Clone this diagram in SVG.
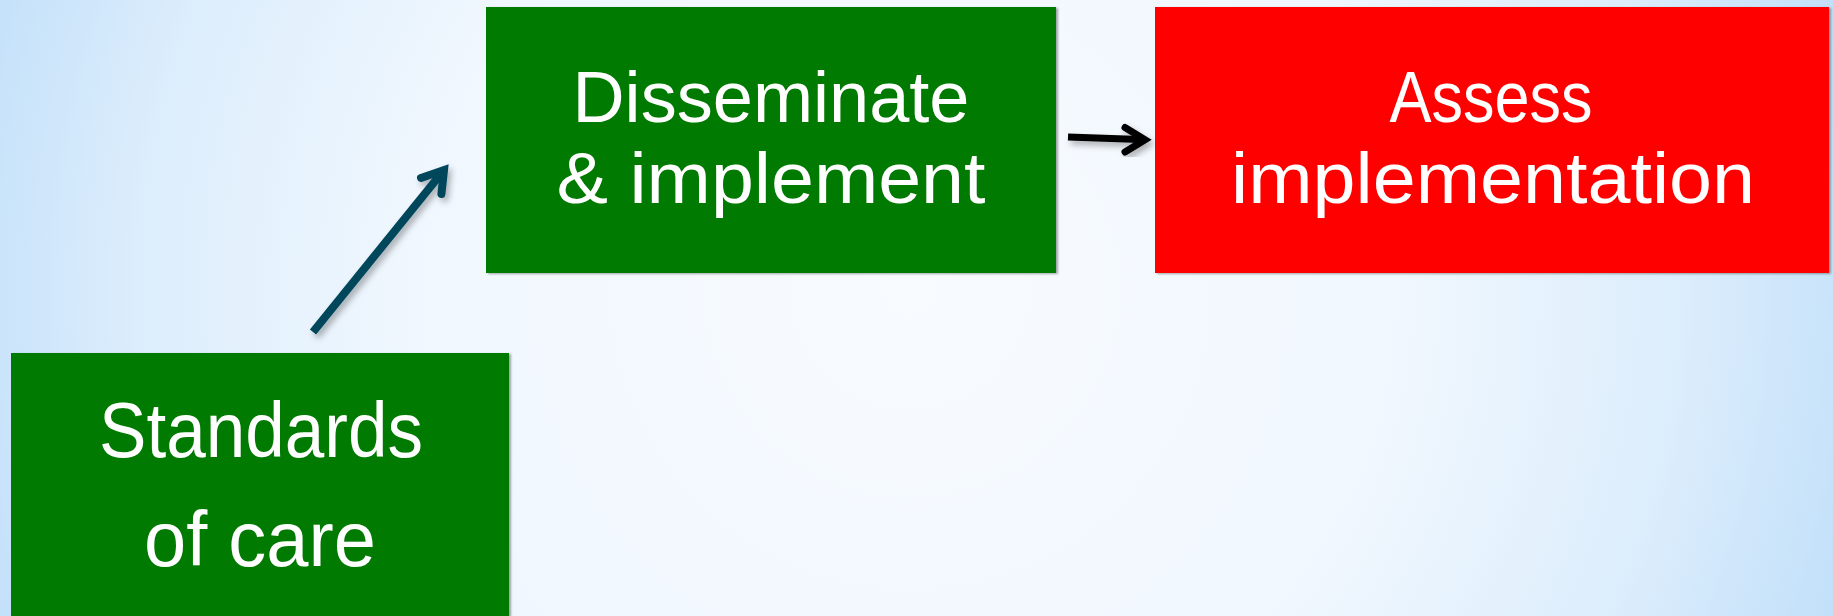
<svg xmlns="http://www.w3.org/2000/svg" width="1833" height="616" viewBox="0 0 1833 616">
  <defs>
    <radialGradient id="bg" gradientUnits="userSpaceOnUse" cx="910" cy="290" r="990">
      <stop offset="0" stop-color="#f8fbff"/>
      <stop offset="0.5" stop-color="#f0f7fe"/>
      <stop offset="0.78" stop-color="#dcedfc"/>
      <stop offset="1" stop-color="#c0dff9"/>
    </radialGradient>
    <filter id="boxShadow" x="-5%" y="-5%" width="110%" height="110%">
      <feDropShadow dx="2" dy="1" stdDeviation="1.2" flood-color="#000" flood-opacity="0.35"/>
    </filter>
    <filter id="arrowShadow" x="-20%" y="-20%" width="140%" height="140%">
      <feDropShadow dx="3" dy="4" stdDeviation="3" flood-color="#000" flood-opacity="0.3"/>
    </filter>
  </defs>
  <style>
    .label { font-family: "Liberation Sans", Arial, sans-serif; fill: #ffffff; text-anchor: middle; }
    .top { font-size: 72px; }
    .big { font-size: 77px; }
    .green { fill: #007a00; }
    .red { fill: #ff0000; }
    .shaft { fill: none; stroke-linecap: butt; }
    .head { fill: none; stroke-linecap: round; stroke-linejoin: miter; stroke-miterlimit: 10; }
  </style>

  <rect width="1833" height="616" fill="url(#bg)"/>

  <g id="standards-of-care" filter="url(#boxShadow)">
    <rect class="green" x="11" y="353" width="498" height="263"/>
    <text class="label big" x="261" y="457" textLength="324" lengthAdjust="spacingAndGlyphs">Standards</text>
    <text class="label big" x="260" y="566" textLength="232" lengthAdjust="spacingAndGlyphs">of care</text>
  </g>

  <g id="disseminate-implement" filter="url(#boxShadow)">
    <rect class="green" x="486" y="7" width="570" height="266"/>
    <text class="label top" x="771" y="122" textLength="397" lengthAdjust="spacingAndGlyphs">Disseminate</text>
    <text class="label top" x="771" y="203" textLength="429" lengthAdjust="spacingAndGlyphs">&amp; implement</text>
  </g>

  <g id="assess-implementation" filter="url(#boxShadow)">
    <rect class="red" x="1155" y="7" width="674" height="266"/>
    <text class="label top" x="1491" y="122" textLength="203" lengthAdjust="spacingAndGlyphs">Assess</text>
    <text class="label top" x="1493" y="203" textLength="524" lengthAdjust="spacingAndGlyphs">implementation</text>
  </g>

  <g id="connectors">
    <g filter="url(#arrowShadow)" stroke="#03465b" stroke-width="8">
      <path class="shaft" d="M313,332 L440,175"/>
      <path class="head" d="M421,178 L444,170 L441.4,194"/>
    </g>
    <g filter="url(#arrowShadow)" stroke="#000000" stroke-width="7">
      <path class="shaft" d="M1068,137 L1140,139.5"/>
      <path class="head" d="M1125,127.5 L1145,139.7 L1125,152"/>
    </g>
  </g>
</svg>
